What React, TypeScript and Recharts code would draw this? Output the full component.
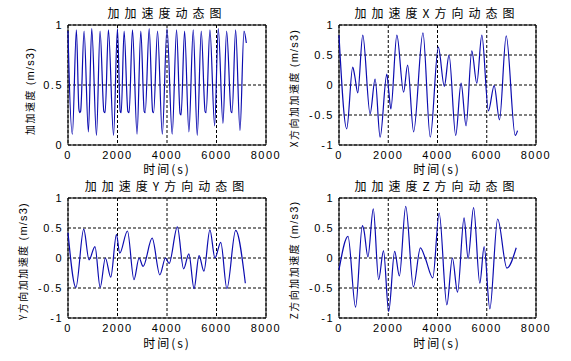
import React from 'react';
import { LineChart, Line, XAxis, YAxis, CartesianGrid, ReferenceArea } from 'recharts';

// ---- data ----
const xTicks = [0, 2000, 4000, 6000, 8000];
const magTicks = [0, 0.5, 1];
const dirTicks = [-1, -0.5, 0, 0.5, 1];

const magTime = [0, 20, 177, 339, 440, 473, 510, 649, 824, 959, 1150, 1296, 1450, 1500, 1633, 1840, 1998, 2110, 2150, 2267, 2420, 2470, 2605, 2790, 2942, 3080, 3120, 3280, 3420, 3460, 3617, 3810, 4000, 4210, 4386, 4530, 4570, 4710, 4885, 5060, 5222, 5384, 5540, 5580, 5735, 5924, 6072, 6261, 6409, 6590, 6630, 6773, 6949, 7111, 7205];
const magValue = [0.95, 0.78, 0.09, 0.96, 0.3, 0.27, 0.28, 0.95, 0.11, 0.97, 0.08, 0.95, 0.28, 0.27, 0.96, 0.08, 0.97, 0.28, 0.27, 0.95, 0.28, 0.27, 0.96, 0.09, 0.95, 0.28, 0.27, 0.97, 0.28, 0.27, 0.95, 0.09, 0.97, 0.09, 0.96, 0.26, 0.25, 0.95, 0.11, 0.96, 0.08, 0.95, 0.28, 0.27, 0.96, 0.16, 0.97, 0.18, 0.95, 0.28, 0.27, 0.96, 0.12, 0.95, 0.85];

const xTime = [0, 313, 558, 640, 762, 965, 1263, 1467, 1670, 1942, 2020, 2105, 2350, 2623, 2786, 3030, 3409, 3706, 4033, 4277, 4468, 4740, 4957, 5160, 5392, 5596, 5800, 6069, 6301, 6517, 6790, 7156, 7250];
const xValue = [0.83, -0.73, 0.3, 0.15, -0.13, 0.83, -0.48, 0.1, -0.87, 0.18, -0.1, -0.4, 0.83, -0.12, 0.33, -0.78, 0.87, -0.87, 0.63, -0.02, 0.5, -0.84, 0.03, -0.68, 0.57, 0.03, 0.83, -0.43, -0.01, -0.58, 0.82, -0.84, -0.76];

const yTime = [0, 320, 635, 850, 1090, 1300, 1510, 1728, 1957, 2090, 2402, 2665, 2873, 3035, 3400, 3710, 3939, 4087, 4418, 4670, 4884, 5093, 5295, 5491, 5734, 5937, 6173, 6420, 6774, 7165];
const yValue = [0.42, -0.49, 0.48, -0.03, 0.19, -0.49, 0.0, -0.32, 0.39, 0.08, 0.45, -0.36, 0.0, -0.14, 0.33, -0.28, 0.0, -0.09, 0.52, -0.18, 0.07, -0.51, 0.04, -0.22, 0.47, 0.0, 0.26, -0.51, 0.46, -0.42];

const zTime = [0, 365, 672, 950, 1010, 1175, 1392, 1610, 1807, 2018, 2260, 2452, 2710, 3022, 3306, 3500, 3809, 4068, 4380, 4604, 4814, 5079, 5242, 5465, 5718, 5894, 6125, 6443, 6818, 7197];
const zValue = [-0.2, 0.36, -0.82, 0.54, 0.47, 0.02, 0.82, -0.36, 0.12, -0.89, 0.11, -0.3, 0.86, -0.48, 0.17, 0.0, -0.33, 0.75, -0.78, 0.0, -0.57, 0.67, -0.01, 0.84, -0.42, 0.19, -0.85, 0.65, -0.17, 0.17];

const titles = ['加加速度动态图', '加加速度X方向动态图', '加加速度Y方向动态图', '加加速度Z方向动态图'];
const yLabelsCn = ['加加速度', 'X方向加加速度', 'Y方向加加速度', 'Z方向加加速度'];
const yLabelUnit = '(m/s3)';
const xLabel = '时间(s)';

// ---- styles ----
const LATIN = "'Liberation Sans', Arial, sans-serif";
const CJK = "'Noto Sans CJK SC', 'Liberation Sans', sans-serif";
const LINE = '#0c0cb0';

type PanelProps = {
  left: number; top: number; width: number; height: number;
  times: number[]; values: number[]; yDomain: [number, number]; yTicks: number[];
};

function Panel({ left, top, width, height, times, values, yDomain, yTicks }: PanelProps) {
  const data = times.map((t, i) => ({ t, v: values[i] }));
  const ML = 60, MT = 5, MR = 28, XH = 30;
  const tickStyle = { fill: '#000', fontSize: 11, fontFamily: LATIN, letterSpacing: 1.5 } as any;
  return (
    <div style={{ position: 'absolute', left: left - ML, top: top - MT }}>
      <LineChart width={width + ML + MR} height={height + MT + XH} data={data}
        margin={{ top: MT, right: MR, left: 0, bottom: 0 }}>
        <CartesianGrid stroke="#000" strokeDasharray="3 2" fill="#fff" />
        <XAxis dataKey="t" type="number" domain={[0, 8000]} ticks={xTicks} interval={0}
          axisLine={false} tickLine={false} tickSize={4} tickMargin={2} height={XH} tick={tickStyle} />
        <YAxis type="number" domain={yDomain} ticks={yTicks} interval={0} width={ML}
          axisLine={false} tickLine={false} tickSize={3} tickMargin={2} tick={tickStyle} />
        <Line type="monotone" dataKey="v" stroke={LINE} strokeWidth={1.2} dot={false} isAnimationActive={false} />
        <ReferenceArea x1={0} x2={8000} y1={yDomain[0]} y2={yDomain[1]} fill="none" fillOpacity={0} stroke="#000" strokeWidth={1} />
      </LineChart>
    </div>
  );
}

function Centered({ x, y, children, rotate, style }: any) {
  return (
    <div style={{
      position: 'absolute', left: x, top: y, whiteSpace: 'nowrap', lineHeight: 1,
      transform: `translate(-50%, -50%)${rotate ? ' rotate(-90deg)' : ''}`, color: '#000', ...style,
    }}>{children}</div>
  );
}

function YLab({ x, y, cn }: { x: number; y: number; cn: string }) {
  return (
    <Centered x={x} y={y} rotate>
      <span style={{ fontFamily: CJK, fontSize: 10, letterSpacing: 1.5 }}>{cn} </span>
      <span style={{ fontFamily: LATIN, fontSize: 11, letterSpacing: 1.2 }}>{yLabelUnit}</span>
    </Centered>
  );
}

export default function App() {
  const titleStyle = { fontFamily: CJK, fontSize: 12, letterSpacing: 5 };
  const xlabStyle = { fontFamily: CJK, fontSize: 12, letterSpacing: 2 };
  return (
    <div style={{ position: 'absolute', left: 0, top: 0, width: 571, height: 361, background: '#fff', overflow: 'hidden' }}>
      <Panel left={68} top={25} width={198} height={120} times={magTime} values={magValue} yDomain={[0, 1]} yTicks={magTicks} />
      <Panel left={339} top={25} width={197} height={120} times={xTime} values={xValue} yDomain={[-1, 1]} yTicks={dirTicks} />
      <Panel left={68} top={198} width={198} height={120} times={yTime} values={yValue} yDomain={[-1, 1]} yTicks={dirTicks} />
      <Panel left={339} top={198} width={197} height={120} times={zTime} values={zValue} yDomain={[-1, 1]} yTicks={dirTicks} />

      <Centered x={167} y={12.5} style={titleStyle}>{titles[0]}</Centered>
      <Centered x={437} y={12.5} style={titleStyle}>{titles[1]}</Centered>
      <Centered x={167} y={186} style={titleStyle}>{titles[2]}</Centered>
      <Centered x={437} y={186} style={titleStyle}>{titles[3]}</Centered>

      <Centered x={167} y={169} style={xlabStyle}>{xLabel}</Centered>
      <Centered x={437} y={169} style={xlabStyle}>{xLabel}</Centered>
      <Centered x={167} y={343} style={xlabStyle}>{xLabel}</Centered>
      <Centered x={437} y={343} style={xlabStyle}>{xLabel}</Centered>

      <YLab x={28.5} y={91} cn={yLabelsCn[0]} />
      <YLab x={292.5} y={87.5} cn={yLabelsCn[1]} />
      <YLab x={21.7} y={261} cn={yLabelsCn[2]} />
      <YLab x={292.5} y={260} cn={yLabelsCn[3]} />
    </div>
  );
}
